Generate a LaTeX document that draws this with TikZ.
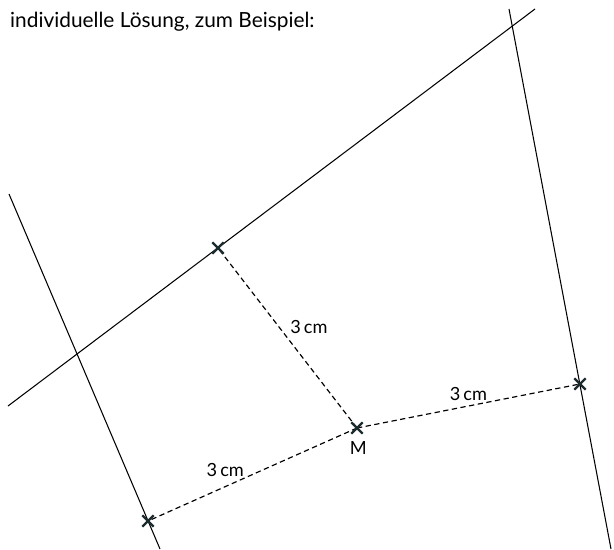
\documentclass[tikz,border=0pt]{standalone}
\usepackage{fontspec}
\setmainfont{Lato}
\usetikzlibrary{calc}
\definecolor{crosscolor}{HTML}{1C2B2E}
\newcommand{\kreuz}[1]{%
    \draw[cross] ($(#1)+(-0.17,-0.17)$) -- ($(#1)+(0.17,0.17)$);
    \draw[cross] ($(#1)+(-0.17,0.17)$) -- ($(#1)+(0.17,-0.17)$);}

\begin{document}
\begin{tikzpicture}[
    gerade/.style={draw=black, line width=0.9pt},
    abstand/.style={draw=black, dashed, dash pattern=on 4.5pt off 3pt, line width=1pt},
    cross/.style={draw=crosscolor, line width=1.9pt},
    label/.style={font=\fontsize{15.5}{18}\selectfont, inner sep=1pt}
]
    \useasboundingbox (0,0) rectangle (18.42,16.47);

    % Title
    \node[font=\fontsize{17.8}{21}\selectfont, anchor=west, inner sep=0pt] (titel) at (0.3,15.81) {individuelle Lösung, zum Beispiel:};

    % Points
    \coordinate (M) at (10.71,3.63);
    \coordinate (A) at (6.54,9.03);
    \coordinate (B) at (4.44,0.84);
    \coordinate (C) at (17.40,4.95);

    % Line ends
    \coordinate (g1) at (0.24,4.29);
    \coordinate (g2) at (16.05,16.20);
    \coordinate (h1) at (0.27,10.65);
    \coordinate (h2) at (4.80,0);
    \coordinate (k1) at (15.27,16.20);
    \coordinate (k2) at (18.33,0);

    % The three lines
    \draw[gerade] (g1) -- (g2);
    \draw[gerade] (h1) -- (h2);
    \draw[gerade] (k1) -- (k2);

    % Distances from M
    \draw[abstand] (M) -- (A) node[label, pos=0.56, right=8pt] (la) {3\,cm};
    \draw[abstand] (M) -- (C) node[label, pos=0.5, above=3pt] (lc) {3\,cm};
    \draw[abstand] (M) -- (B) node[label, pos=0.63, above=7pt] (lb) {3\,cm};

    % Crosses
    \kreuz{M}
    \kreuz{A}
    \kreuz{B}
    \kreuz{C}
    \node[label, font=\fontsize{15.5}{18}\selectfont] (mlabel) at ($(M)+(0.04,-0.6)$) {M};

\end{tikzpicture}
\end{document}
